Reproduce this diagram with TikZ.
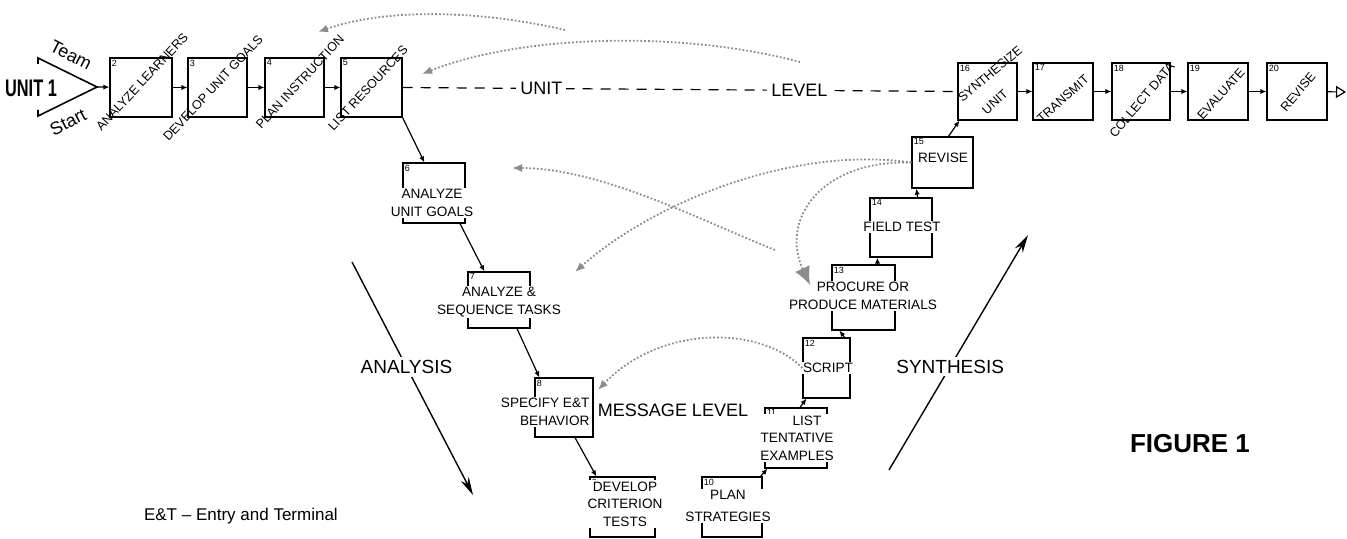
\documentclass[tikz,border=0pt]{standalone}
\usepackage{fontspec}
\setmainfont{Liberation Sans}
\usepackage{graphicx}
\usetikzlibrary{fit,arrows.meta}
\begin{document}
\begin{tikzpicture}[x=0.5pt,y=-0.5pt,
  box/.style={draw, line width=0.6pt, inner sep=0pt},
  txt/.style={font=\fontsize{6.8}{8.8}\selectfont, align=center, inner sep=0.6pt, fill=white},
  rtxt/.style={font=\fontsize{6.3}{7}\selectfont, inner sep=0pt},
  num/.style={font=\fontsize{4.5}{5}\selectfont, anchor=north west, inner sep=1pt},
  conn/.style={line width=0.6pt, -{Latex[length=3pt,width=2.6pt]}},
  bigarrow/.style={line width=0.7pt, -{Stealth[length=9pt,width=4.5pt]}},
  fb/.style={black!45, densely dotted, line width=0.9pt, -{Latex[length=5pt,width=4pt]}},
  big/.style={font=\fontsize{9.5}{11}\selectfont, fill=white, inner sep=1.5pt}]
\useasboundingbox (0,0) rectangle (1347,539);

% boxes
\node[box, fit={(110,58) (172,117)}] (b2) {};
\node[box, fit={(188,58) (247,117)}] (b3) {};
\node[box, fit={(265,58) (324,117)}] (b4) {};
\node[box, fit={(341,58) (402,117)}] (b5) {};
\node[box, fit={(403,163) (465,223)}] (b6) {};
\node[box, fit={(468,272) (530,328)}] (b7) {};
\node[box, fit={(535,378) (593,437)}] (b8) {};
\node[box, fit={(590,477) (655,537)}] (b9) {};
\node[box, fit={(702,477) (762,537)}] (b10) {};
\node[box, fit={(765,408) (827,468)}] (b11) {};
\node[box, fit={(803,338) (850,398)}] (b12) {};
\node[box, fit={(832,265) (895,330)}] (b13) {};
\node[box, fit={(870,198) (932,257)}] (b14) {};
\node[box, fit={(912,137) (973,188)}] (b15) {};
\node[box, fit={(958,63) (1017,120)}] (b16) {};
\node[box, fit={(1033,63) (1093,120)}] (b17) {};
\node[box, fit={(1112,63) (1170,120)}] (b18) {};
\node[box, fit={(1188,63) (1248,120)}] (b19) {};
\node[box, fit={(1267,63) (1327,120)}] (b20) {};

% numbers
\node[num] (n2) at (b2.north west) {2};
\node[num] (n3) at (b3.north west) {3};
\node[num] (n4) at (b4.north west) {4};
\node[num] (n5) at (b5.north west) {5};
\node[num] (n6) at (b6.north west) {6};
\node[num] (n7) at (b7.north west) {7};
\node[num] (n8) at (b8.north west) {8};
\node[num] (n9) at (b9.north west) {9};
\node[num] (n10) at (b10.north west) {10};
\node[num] (n11) at (b11.north west) {11};
\node[num] (n12) at (b12.north west) {12};
\node[num] (n13) at (b13.north west) {13};
\node[num] (n14) at (b14.north west) {14};
\node[num] (n15) at (b15.north west) {15};
\node[num] (n16) at (b16.north west) {16};
\node[num] (n17) at (b17.north west) {17};
\node[num] (n18) at (b18.north west) {18};
\node[num] (n19) at (b19.north west) {19};
\node[num] (n20) at (b20.north west) {20};

% top row rotated texts
\node[rtxt, rotate=47] (t2) at (142,82) {ANALYZE LEARNERS};
\node[rtxt, rotate=47] (t3) at (213,88) {DEVELOP UNIT GOALS};
\node[rtxt, rotate=47] (t4) at (300,82) {PLAN INSTRUCTION};
\node[rtxt, rotate=47] (t5) at (368,88) {LIST RESOURCES};
\node[rtxt, rotate=40] (t16a) at (990,74) {SYNTHESIZE};
\node[rtxt, rotate=42] (t16b) at (995,102) {UNIT};
\node[rtxt, rotate=42] (t17) at (1063,99) {TRANSMIT};
\node[rtxt, rotate=50] (t18) at (1142,100) {COLLECT DATA};
\node[rtxt, rotate=48] (t19) at (1221,94) {EVALUATE};
\node[rtxt, rotate=50] (t20) at (1298,92) {REVISE};

% lower texts
\node[txt] (t6) at (432,203) {ANALYZE\\UNIT GOALS};
\node[txt] (t7) at (499,302) {ANALYZE \&\\SEQUENCE TASKS};
\node[txt, align=right, anchor=east] (t8) at (591,412) {SPECIFY E\&T\\BEHAVIOR};
\node[txt] (t9) at (625,504) {DEVELOP\\CRITERION\\TESTS};
\node[txt] (t10) at (728,506) {PLAN\\[2pt]STRATEGIES};
\node[txt] (t11) at (797,438) {\hspace{10pt}LIST\\TENTATIVE\\EXAMPLES};
\node[txt] (t12) at (828,368) {SCRIPT};
\node[txt] (t13) at (863,296) {PROCURE OR\\PRODUCE MATERIALS};
\node[txt] (t14) at (902,227) {FIELD TEST};
\node[txt] (t15) at (943,158) {REVISE};

% start triangle
\coordinate (apex) at (97,87);
\draw[line width=0.8pt] (38,64) -- (38,58) -- (apex) -- (38,116) -- (38,110);
\node[font=\bfseries\fontsize{12}{14}\selectfont, inner sep=0pt] (u1) at (31,88) {\scalebox{0.68}[1]{UNIT 1}};
\node[font=\fontsize{9}{10}\selectfont, rotate=-27, inner sep=0pt] (team) at (71,55) {Team};
\node[font=\fontsize{9}{10}\selectfont, rotate=27, inner sep=0pt] (start) at (68,122) {Start};

% connectors
\draw[conn] (apex) -- (b2);
\draw[conn] (b2) -- (b3);
\draw[conn] (b3) -- (b4);
\draw[conn] (b4) -- (b5);
\draw[conn] (b5.south east) -- ([xshift=11pt]b6.north west);
\draw[conn] ([xshift=13pt]b6.south) -- ([xshift=8.5pt]b7.north west);
\draw[conn] ([xshift=9pt]b7.south) -- ([xshift=2.5pt]b8.north west);
\draw[conn] ([xshift=5.5pt]b8.south) -- ([xshift=3.5pt]b9.north west);
\draw[conn] ([xshift=-1pt]b10.north east) -- ([xshift=1.5pt]b11.south west);
\draw[conn] ([xshift=2pt]b11.north) -- ([xshift=2pt]b12.south west);
\draw[conn] ([xshift=-3pt]b12.north east) -- ([xshift=4pt]b13.south west);
\draw[conn] ([xshift=7pt]b13.north) -- ([xshift=4pt]b14.south west);
\draw[conn] ([xshift=-7.5pt]b14.north east) -- ([xshift=2.5pt]b15.south west);
\draw[conn] ([xshift=3pt]b15.north) -- ([xshift=1pt]b16.south west);
\draw[conn] (b16) -- (b17);
\draw[conn] (b17) -- (b18);
\draw[conn] (b18) -- (b19);
\draw[conn] (b19) -- (b20);
\coordinate (exit) at (1346,92);
\draw[line width=0.6pt, -{Triangle[open,length=5pt,width=6pt]}] (b20) -- (exit);

% unit level dashed line
\draw[line width=0.6pt, dash pattern=on 5pt off 4pt] (b5.east) -- (b16.west)
  node[pos=0.25, fill=white, font=\fontsize{9}{10}\selectfont, inner sep=2pt] (unitl) {UNIT}
  node[pos=0.715, fill=white, font=\fontsize{9}{10}\selectfont, inner sep=2pt] (levell) {LEVEL};

\node[font=\fontsize{9}{10}\selectfont] (msg) at (673,410) {MESSAGE LEVEL};

% analysis / synthesis
\coordinate (an1) at (352,262);
\coordinate (an2) at (473,495);
\draw[bigarrow] (an1) -- (an2) node[pos=0.45, big] (anl) {ANALYSIS};
\coordinate (sy1) at (889,470);
\coordinate (sy2) at (1028,235);
\draw[bigarrow] (sy1) -- (sy2) node[pos=0.44, big] (syl) {SYNTHESIS};

% feedback curves
\coordinate (fa) at (565,30);
\coordinate (fah) at (318,32);
\draw[fb] (fa) .. controls (470,8) and (380,10) .. (fah);
\coordinate (fbs) at (800,62);
\coordinate (fbe) at (422,74);
\draw[fb] (fbs) .. controls (680,30) and (520,35) .. (fbe);
\coordinate (f7) at (575,272);
\draw[fb] (b15.west) .. controls (790,145) and (650,205) .. (f7);
\coordinate (f4s) at (775,250);
\coordinate (f6) at (512,168);
\draw[fb] (f4s) .. controls (700,220) and (600,168) .. (f6);
\coordinate (f13) at (810,285);
\draw[fb, -{Latex[length=9pt,width=8pt]}] (b15.west) .. controls (820,160) and (780,220) .. (f13);
\coordinate (f8) at (598,390);
\draw[fb] (b12.west) .. controls (760,325) and (660,325) .. (f8);

% captions
\node[font=\bfseries\fontsize{13}{15}\selectfont] (fig) at (1190,444) {FIGURE 1};
\node[font=\fontsize{8.5}{10}\selectfont, anchor=west] (et) at (137,516) {E\&T -- Entry and Terminal};
\end{tikzpicture}
\end{document}
